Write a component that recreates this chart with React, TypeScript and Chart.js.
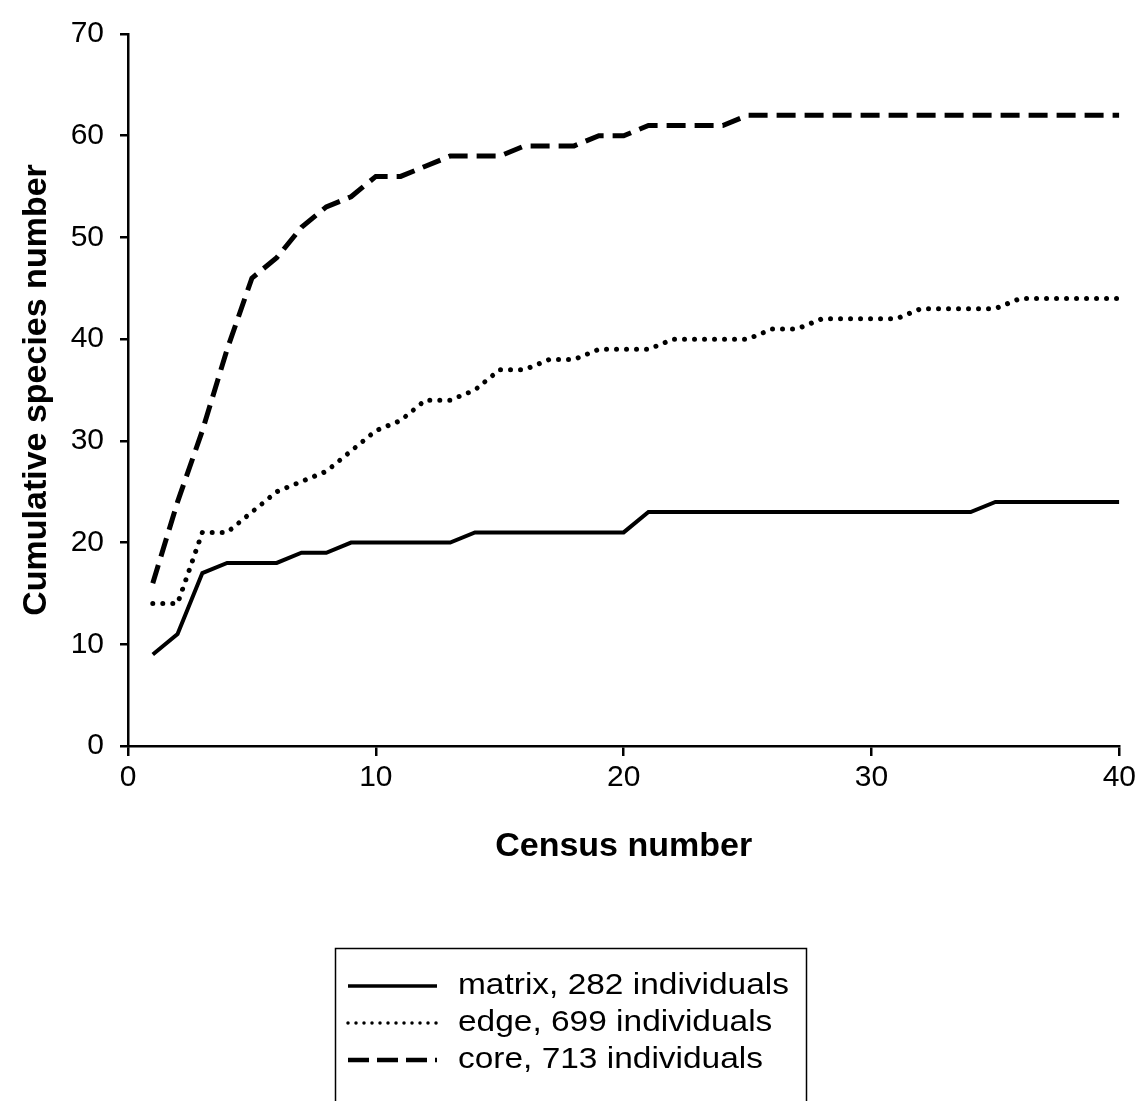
import React, { useEffect, useRef } from "react";
import { Chart, registerables } from "chart.js";

Chart.register(...registerables);

const census = [
  1, 2, 3, 4, 5, 6, 7, 8, 9, 10,
  11, 12, 13, 14, 15, 16, 17, 18, 19, 20,
  21, 22, 23, 24, 25, 26, 27, 28, 29, 30,
  31, 32, 33, 34, 35, 36, 37, 38, 39, 40,
];

const matrix = [
  9, 11, 17, 18, 18, 18, 19, 19, 20, 20,
  20, 20, 20, 21, 21, 21, 21, 21, 21, 21,
  23, 23, 23, 23, 23, 23, 23, 23, 23, 23,
  23, 23, 23, 23, 24, 24, 24, 24, 24, 24,
];

const edge = [
  14, 14, 21, 21, 23, 25, 26, 27, 29, 31,
  32, 34, 34, 35, 37, 37, 38, 38, 39, 39,
  39, 40, 40, 40, 40, 41, 41, 42, 42, 42,
  42, 43, 43, 43, 43, 44, 44, 44, 44, 44,
];

const core = [
  16, 24, 31, 39, 46, 48, 51, 53, 54, 56,
  56, 57, 58, 58, 58, 59, 59, 59, 60, 60,
  61, 61, 61, 61, 62, 62, 62, 62, 62, 62,
  62, 62, 62, 62, 62, 62, 62, 62, 62, 62,
];

const seriesLabels = [
  "matrix, 282 individuals",
  "edge, 699 individuals",
  "core, 713 individuals",
];

const xTitle = "Census number";
const yTitle = "Cumulative species number";

const FONT = '"Liberation Sans", Arial, Helvetica, sans-serif';

const legendStyles = [
  { width: 3.5, dash: [] as number[], cap: "butt" as CanvasLineCap },
  { width: 3.5, dash: [0.001, 8], cap: "round" as CanvasLineCap },
  { width: 4.5, dash: [21, 8], cap: "butt" as CanvasLineCap },
];

const boxLegend = {
  id: "boxLegend",
  afterDraw(chart: any) {
    const ctx: CanvasRenderingContext2D = chart.ctx;
    ctx.save();
    ctx.strokeStyle = "#000";
    ctx.lineWidth = 1.5;
    ctx.setLineDash([]);
    ctx.strokeRect(335.5, 948.5, 471, 220);
    chart.data.datasets.forEach((ds: any, i: number) => {
      const y = 986 + i * 37;
      const st = legendStyles[i];
      ctx.beginPath();
      ctx.lineWidth = st.width;
      ctx.lineCap = st.cap;
      ctx.setLineDash(st.dash);
      ctx.moveTo(348, y);
      ctx.lineTo(437, y);
      ctx.stroke();
      ctx.setLineDash([]);
      ctx.font = `30px ${FONT}`;
      ctx.textBaseline = "middle";
      ctx.textAlign = "left";
      ctx.fillStyle = "#000";
      ctx.save();
      ctx.translate(458, y);
      ctx.scale(1.115, 1);
      ctx.fillText(ds.label, 0, 0);
      ctx.restore();
    });
    ctx.restore();
  },
};

export default function App() {
  const ref = useRef<HTMLCanvasElement | null>(null);

  useEffect(() => {
    if (!ref.current) return;
    Chart.defaults.color = "#000";
    const toPts = (arr: number[]) => census.map((c, i) => ({ x: c, y: arr[i] }));
    const chart = new Chart(ref.current, {
      type: "line",
      data: {
        datasets: [
          {
            label: seriesLabels[0],
            data: toPts(matrix),
            borderColor: "#000",
            borderWidth: 4,
            borderCapStyle: "butt",
            pointRadius: 0,
            tension: 0,
          },
          {
            label: seriesLabels[1],
            data: toPts(edge),
            borderColor: "#000",
            borderWidth: 5,
            borderDash: [0.001, 10],
            borderCapStyle: "round",
            pointRadius: 0,
            tension: 0,
          },
          {
            label: seriesLabels[2],
            data: toPts(core),
            borderColor: "#000",
            borderWidth: 5,
            borderDash: [19, 9],
            borderCapStyle: "butt",
            pointRadius: 0,
            tension: 0,
          },
        ],
      },
      options: {
        responsive: false,
        animation: false,
        devicePixelRatio: 1,
        layout: { padding: { left: 0, right: 20, top: 28, bottom: 234 } },
        plugins: {
          legend: { display: false },
          tooltip: { enabled: false },
        },
        scales: {
          x: {
            type: "linear",
            min: 0,
            max: 40,
            ticks: {
              stepSize: 10,
              font: { family: FONT, size: 30 },
              color: "#000",
              padding: 4,
              maxRotation: 0,
            },
            grid: {
              drawOnChartArea: false,
              drawTicks: true,
              tickLength: 10,
              color: "#000",
              lineWidth: 2.5,
            },
            border: { display: true, color: "#000", width: 2.5 },
            title: {
              display: true,
              text: xTitle,
              font: { family: FONT, size: 34, weight: "bold" },
              color: "#000",
              padding: { top: 0, bottom: 0 },
            },
            afterFit: (s: any) => {
              s.height = 121;
            },
          },
          y: {
            type: "linear",
            min: 0,
            max: 70,
            ticks: {
              stepSize: 10,
              font: { family: FONT, size: 30 },
              color: "#000",
              padding: 16,
            },
            grid: {
              drawOnChartArea: false,
              drawTicks: true,
              tickLength: 8,
              color: "#000",
              lineWidth: 2.5,
            },
            border: { display: true, color: "#000", width: 2.5 },
            title: {
              display: true,
              text: yTitle,
              font: { family: FONT, size: 34, weight: "bold" },
              color: "#000",
              padding: { top: 16, bottom: 0 },
            },
            afterFit: (s: any) => {
              s.width = 128;
            },
          },
        },
      },
      plugins: [boxLegend],
    } as any);
    return () => chart.destroy();
  }, []);

  return (
    <div style={{ position: "absolute", left: 0, top: 0, width: 1140, height: 1101, background: "#fff" }}>
      <canvas ref={ref} width={1140} height={1101} style={{ display: "block" }} />
    </div>
  );
}
